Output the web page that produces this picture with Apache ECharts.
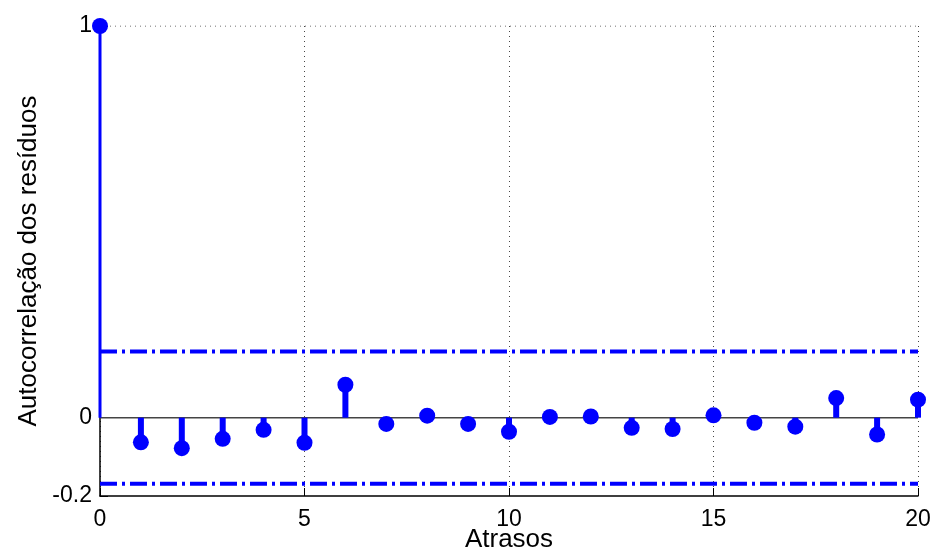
<!DOCTYPE html>
<html>
<head>
<meta charset="utf-8">
<script src="https://cdn.jsdelivr.net/npm/echarts@6/dist/echarts.min.js"></script>
<style>
html,body{margin:0;padding:0;background:#fff;}
#chart{width:935px;height:555px;}
</style>
</head>
<body>
<div id="chart"></div>
<script>
const lags = [0,1,2,3,4,5,6,7,8,9,10,11,12,13,14,15,16,17,18,19,20];
const acf = [1, -0.063, -0.078, -0.054, -0.031, -0.064, 0.084, -0.016, 0.005, -0.016, -0.036, 0.002, 0.003, -0.026, -0.029, 0.006, -0.013, -0.023, 0.050, -0.043, 0.046];
const upperBound = 0.169;
const lowerBound = -0.169;
const xTicks = [0,5,10,15,20];
const yTickLabels = [-0.2, 0, 1];
const xTitle = 'Atrasos';
const yTitle = 'Autocorrelação dos resíduos';

const pts = lags.map((l,i)=>[l, acf[i]]);
const font = "'Liberation Sans', Arial, sans-serif";
const blue = '#0000ff';

const chart = echarts.init(document.getElementById('chart'));
chart.setOption({
  animation:false,
  backgroundColor:'#fff',
  grid:{left:100, right:17, top:26, bottom:59, containLabel:false, outerBoundsMode:'none'},
  xAxis:{
    type:'value', min:0, max:20, interval:5,
    name:xTitle, nameLocation:'middle', nameGap:31, nameMoveOverlap:false,
    nameTextStyle:{fontFamily:font, fontSize:26, color:'#000'},
    axisLine:{onZero:false, lineStyle:{color:'#000', width:1.5}},
    axisTick:{inside:true, length:8, lineStyle:{color:'#000', width:1}, customValues:xTicks},
    axisLabel:{fontFamily:font, fontSize:23, color:'#000', margin:12, customValues:xTicks},
    splitLine:{show:true, lineStyle:{color:'#444', width:1, type:[1,4]}}
  },
  yAxis:{
    type:'value', min:-0.2, max:1, interval:0.2,
    name:yTitle, nameLocation:'middle', nameGap:58, nameMoveOverlap:false,
    nameTextStyle:{fontFamily:font, fontSize:26, color:'#000'},
    axisLine:{lineStyle:{color:'#000', width:1.5}},
    axisTick:{inside:true, length:8, lineStyle:{color:'#000', width:1}, customValues:yTickLabels},
    axisLabel:{fontFamily:font, fontSize:23, color:'#000', margin:8, customValues:yTickLabels,
      formatter:function(v){return String(Math.round(v*10)/10);}},
    splitLine:{show:false}
  },
  series:[
    {
      type:'line', data:[[0,1],[20,1]], silent:true, showSymbol:false, z:1,
      lineStyle:{color:'#444', width:1, type:[1,4]}
    },
    {
      type:'line', data:[[0,0],[20,0]], silent:true, showSymbol:false, z:2,
      lineStyle:{color:'#444', width:1.5}
    },
    {
      type:'line', data:[[0,upperBound],[20,upperBound]], silent:true, showSymbol:false, z:3,
      lineStyle:{color:blue, width:4, type:[17,5,3,5]}
    },
    {
      type:'line', data:[[0,lowerBound],[20,lowerBound]], silent:true, showSymbol:false, z:3,
      lineStyle:{color:blue, width:4, type:[17,5,3,5]}
    },
    {
      type:'custom', data:pts, z:4,
      renderItem:function(params, api){
        const x = api.value(0), y = api.value(1);
        const p0 = api.coord([x,0]), p1 = api.coord([x,y]);
        return {type:'line', shape:{x1:p0[0], y1:p0[1], x2:p1[0], y2:p1[1]},
          style:{stroke:blue, lineWidth: x===0 ? 3 : 6}};
      }
    },
    {
      type:'scatter', data:pts, symbol:'circle', symbolSize:16, z:5,
      itemStyle:{color:blue, opacity:1}
    }
  ]
});
</script>
</body>
</html>
